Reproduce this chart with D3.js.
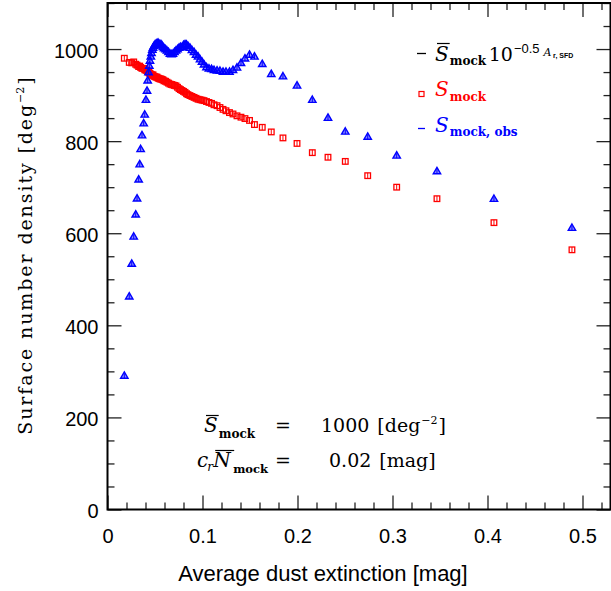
<!DOCTYPE html>
<html>
<head>
<meta charset="utf-8">
<script src="https://cdn.jsdelivr.net/npm/d3@7"></script>
<style>
  body { margin: 0; background: #fff; }
  svg { display: block; }
</style>
</head>
<body>
<svg id="chart" width="611" height="591"></svg>
<script>
// Average dust extinction of each bin [mag]
const extinction = [
  0.0177, 0.0229, 0.0255, 0.0276, 0.0297, 0.0311, 0.0328, 0.0339, 0.0349, 0.0363,
  0.0381, 0.0392, 0.0405, 0.0416, 0.0423, 0.0432, 0.0440, 0.0447, 0.0456, 0.0463,
  0.0472, 0.0479, 0.0489, 0.0500, 0.0511, 0.0521, 0.0532, 0.0542, 0.0553, 0.0563,
  0.0574, 0.0584, 0.0595, 0.0611, 0.0626, 0.0642, 0.0658, 0.0674, 0.0689, 0.0705,
  0.0721, 0.0737, 0.0753, 0.0768, 0.0784, 0.0800, 0.0816, 0.0832, 0.0847, 0.0868,
  0.0889, 0.0911, 0.0932, 0.0953, 0.0974, 0.0995, 0.1016, 0.1042, 0.1068, 0.1095,
  0.1121, 0.1153, 0.1184, 0.1216, 0.1247, 0.1284, 0.1321, 0.1363, 0.1405, 0.1447,
  0.1495, 0.1547, 0.1629, 0.1724, 0.1847, 0.1995, 0.2156, 0.2321, 0.2503, 0.2739,
  0.3044, 0.3468, 0.4068, 0.4889
];

// S_mock : surface density of the mock sample [deg^-2]
const sMock = [
  980, 971, 970, 972, 967, 965, 962, 963, 960, 958,
  958, 955, 954, 953, 951, 950, 948, 947, 945, 944,
  943, 944, 941, 940, 939, 939, 937, 936, 935, 935,
  934, 933, 931, 930, 928, 926, 924, 923, 922, 921,
  920, 917, 914, 912, 910, 908, 906, 903, 901, 899,
  897, 895, 893, 891, 890, 889, 888, 886, 884, 882,
  879, 877, 873, 869, 866, 862, 859, 855, 852, 849,
  845, 836, 830, 820, 807, 795, 775, 765, 756, 725,
  700, 675, 623, 564
];

// S_mock,obs : observed surface density of the mock sample [deg^-2]
const sMockObs = [
  291, 463, 534, 593, 641, 676, 717, 750, 783, 813,
  839, 858, 890, 910, 932, 950, 964, 975, 984, 992,
  999, 1003, 1007, 1010, 1012, 1013, 1014, 1012, 1010, 1011,
  1008, 1005, 1002, 1000, 997, 994, 990, 989, 990, 994,
  997, 1000, 1003, 1005, 1004, 1009, 1011, 1010, 1007, 1003,
  998, 994, 988, 984, 978, 973, 967, 961, 958, 957,
  955, 954, 953, 951, 951, 951, 955, 960, 970, 980,
  988, 984, 968, 946, 941, 921, 890, 851, 821, 810,
  769, 735, 675, 612
];

const xTickValues = [0, 0.1, 0.2, 0.3, 0.4, 0.5];
const xTickLabels = ["0", "0.1", "0.2", "0.3", "0.4", "0.5"];
const yTickValues = [0, 200, 400, 600, 800, 1000];
const yTickLabels = ["0", "200", "400", "600", "800", "1000"];
const sMockMean = "1000";
const crNMock = "0.02";

const svg = d3.select("#chart");
const SANS = "'Liberation Sans', Arial, Helvetica, sans-serif";
const SERIF = "'DejaVu Serif', 'Liberation Serif', serif";
const RED = "#ff0000", BLUE = "#0000ff";

const x = d3.scaleLinear().domain([0, 0.53]).range([107.5, 611]);
const y = d3.scaleLinear().domain([0, 1100]).range([509.5, 3]);
const [x0, x1] = x.range();
const [yb, yt] = y.range();

const xMinor = d3.range(0, 0.531, 0.02).filter(v => !xTickValues.some(t => Math.abs(t - v) < 1e-6));
const yMinor = d3.range(0, 1101, 50).filter(v => !yTickValues.includes(v));
const xMajorAll = d3.range(0, 0.531, 0.1);

// inward ticks on all four sides
function ticks(axisGen, scale, vals, len, tr) {
  const g = svg.append("g").attr("transform", tr)
    .call(axisGen(scale).tickValues(vals).tickSize(len).tickFormat(""));
  g.select(".domain").remove();
  g.selectAll(".tick line").attr("stroke", "#222").attr("stroke-width", 1.3);
  return g;
}
ticks(d3.axisTop, x, xMajorAll, 14, `translate(0,${yb})`);
ticks(d3.axisTop, x, xMinor, 7, `translate(0,${yb})`);
ticks(d3.axisBottom, x, xMajorAll, 14, `translate(0,${yt})`);
ticks(d3.axisBottom, x, xMinor, 7, `translate(0,${yt})`);
ticks(d3.axisRight, y, yTickValues, 14, `translate(${x0},0)`);
ticks(d3.axisRight, y, yMinor, 7, `translate(${x0},0)`);
ticks(d3.axisLeft, y, yTickValues, 14, `translate(${x1 - 0.5},0)`);
ticks(d3.axisLeft, y, yMinor, 7, `translate(${x1 - 0.5},0)`);

// tick labels
const yLab = svg.append("g").attr("transform", `translate(${x0},0)`)
  .call(d3.axisLeft(y).tickValues(yTickValues).tickSize(0).tickPadding(9)
    .tickFormat((d, i) => yTickLabels[i]));
yLab.select(".domain").remove();
yLab.selectAll("text").attr("font-family", SANS).attr("font-size", 20).attr("fill", "#000").attr("dy", "0.42em");

const xLab = svg.append("g").attr("transform", `translate(0,${yb})`)
  .call(d3.axisBottom(x).tickValues(xTickValues).tickSize(0).tickPadding(19)
    .tickFormat((d, i) => xTickLabels[i]));
xLab.select(".domain").remove();
xLab.selectAll("text").attr("font-family", SANS).attr("font-size", 20).attr("fill", "#000");

// frame
svg.append("rect").attr("x", x0).attr("y", yt).attr("width", x1 - 0.5 - x0).attr("height", yb - yt)
  .attr("fill", "none").attr("stroke", "#000").attr("stroke-width", 2);

// sequential rich text pieces
function rich(parent, x, yBase, parts, color) {
  let cx = x;
  const boxes = [];
  parts.forEach(p => {
    const px = cx + (p.dx || 0);
    const t = parent.append("text").attr("x", px).attr("y", yBase + (p.dy || 0))
      .attr("font-family", p.family || SERIF).attr("font-size", p.size || 19)
      .attr("font-style", p.italic ? "italic" : "normal")
      .attr("font-weight", p.bold ? "bold" : "normal")
      .attr("letter-spacing", p.ls || 0)
      .attr("fill", color).text(p.t);
    const w = t.node().getBBox().width;
    boxes.push({ x: px, w });
    cx = px + w;
  });
  return boxes;
}
function overbar(parent, box, yy, color) {
  parent.append("line").attr("x1", box.x + 2).attr("x2", box.x + box.w + 1)
    .attr("y1", yy).attr("y2", yy).attr("stroke", color).attr("stroke-width", 1.2);
}

// axis titles
svg.append("text").attr("x", 323).attr("y", 581).attr("text-anchor", "middle")
  .attr("font-family", SANS).attr("font-size", 22).text("Average dust extinction [mag]");

const yTitle = svg.append("g").attr("transform", "translate(32,256) rotate(-90)");
const yInner = yTitle.append("g");
const tb = rich(yInner, 0, 0, [
  { t: "Surface number density [deg", size: 19, ls: 1.9 },
  { t: "−2", size: 11, dy: -8, dx: 0 },
  { t: "]", size: 19, dx: 2 }
], "#000");
{
  const last = tb[tb.length - 1];
  const total = last.x + last.w;
  yInner.attr("transform", `translate(${-total / 2},0)`);
}

// data marks
const pts = extinction.map((e, i) => ({ e, s: sMock[i], o: sMockObs[i] }));
const gRed = svg.append("g");
gRed.selectAll("g").data(pts).join("g")
  .attr("transform", d => `translate(${x(d.e)},${y(d.s)})`)
  .each(function () {
    const g = d3.select(this);
    g.append("rect").attr("x", -2.8).attr("y", -2.8).attr("width", 5.6).attr("height", 5.6)
      .attr("fill", "none").attr("stroke", RED).attr("stroke-width", 1.3);
    g.append("line").attr("y1", -2.8).attr("y2", 2.8).attr("stroke", RED).attr("stroke-width", 1);
  });

const gBlue = svg.append("g");
gBlue.selectAll("g").data(pts).join("g")
  .attr("transform", d => `translate(${x(d.e)},${y(d.o)})`)
  .each(function () {
    const g = d3.select(this);
    g.append("path").attr("d", "M0,-3.7L3.7,2.7L-3.7,2.7Z")
      .attr("fill", "rgba(0,0,255,0.45)").attr("stroke", BLUE).attr("stroke-width", 1.4);
    g.append("line").attr("y1", -2).attr("y2", 2.7).attr("stroke", BLUE).attr("stroke-width", 1);
  });

// legend
const leg = svg.append("g");
leg.append("line").attr("x1", 417).attr("x2", 426).attr("y1", 53.5).attr("y2", 53.5)
  .attr("stroke", "#000").attr("stroke-width", 1.3);
let b = rich(leg, 435, 60.5, [
  { t: "S", italic: true, size: 20 },
  { t: "mock", bold: true, size: 12, dy: 4, dx: 1 },
  { t: "10", size: 19, dx: 2 },
  { t: "−0.5", family: SANS, size: 13, dy: -8, dx: 1 },
  { t: "A", italic: true, size: 11, dy: -5, dx: 4 },
  { t: "r, SFD", bold: true, family: SANS, size: 7, dy: -2.5, dx: 0.5 }
], "#000");
overbar(leg, b[0], 43.5, "#000");

leg.append("rect").attr("x", 419).attr("y", 91.5).attr("width", 5).attr("height", 5)
  .attr("fill", "none").attr("stroke", RED).attr("stroke-width", 1.2);
rich(leg, 435, 96, [
  { t: "S", italic: true, size: 20 },
  { t: "mock", bold: true, size: 12, dy: 4.5, dx: 1 }
], RED);

leg.append("line").attr("x1", 418).attr("x2", 425).attr("y1", 128.5).attr("y2", 128.5)
  .attr("stroke", BLUE).attr("stroke-width", 1.3);
rich(leg, 435, 131.5, [
  { t: "S", italic: true, size: 20 },
  { t: "mock, obs", bold: true, size: 12, dy: 4, dx: 1 }
], BLUE);

// annotation
const ann = svg.append("g");
b = rich(ann, 204, 432, [
  { t: "S", italic: true, size: 20 },
  { t: "mock", bold: true, size: 12, dy: 6, dx: 1 }
], "#000");
overbar(ann, b[0], 415.5, "#000");
rich(ann, 275, 432, [{ t: "=", size: 19 }], "#000");
rich(ann, 321, 432, [
  { t: sMockMean, size: 19 },
  { t: "[deg", size: 19, dx: 8 },
  { t: "−2", size: 11, dy: -8, dx: 1 },
  { t: "]", size: 19, dx: 1 }
], "#000");

b = rich(ann, 197, 467, [
  { t: "c", italic: true, size: 20 },
  { t: "r", italic: true, size: 12, dy: 4, dx: -1 },
  { t: "N", italic: true, size: 20, dx: -1 },
  { t: "mock", bold: true, size: 11.5, dy: 6, dx: 0 }
], "#000");
overbar(ann, b[2], 450.5, "#000");
rich(ann, 275, 467, [{ t: "=", size: 19 }], "#000");
rich(ann, 329, 467, [
  { t: crNMock, size: 19 },
  { t: "[mag]", size: 19, dx: 8 }
], "#000");
</script>
</body>
</html>
